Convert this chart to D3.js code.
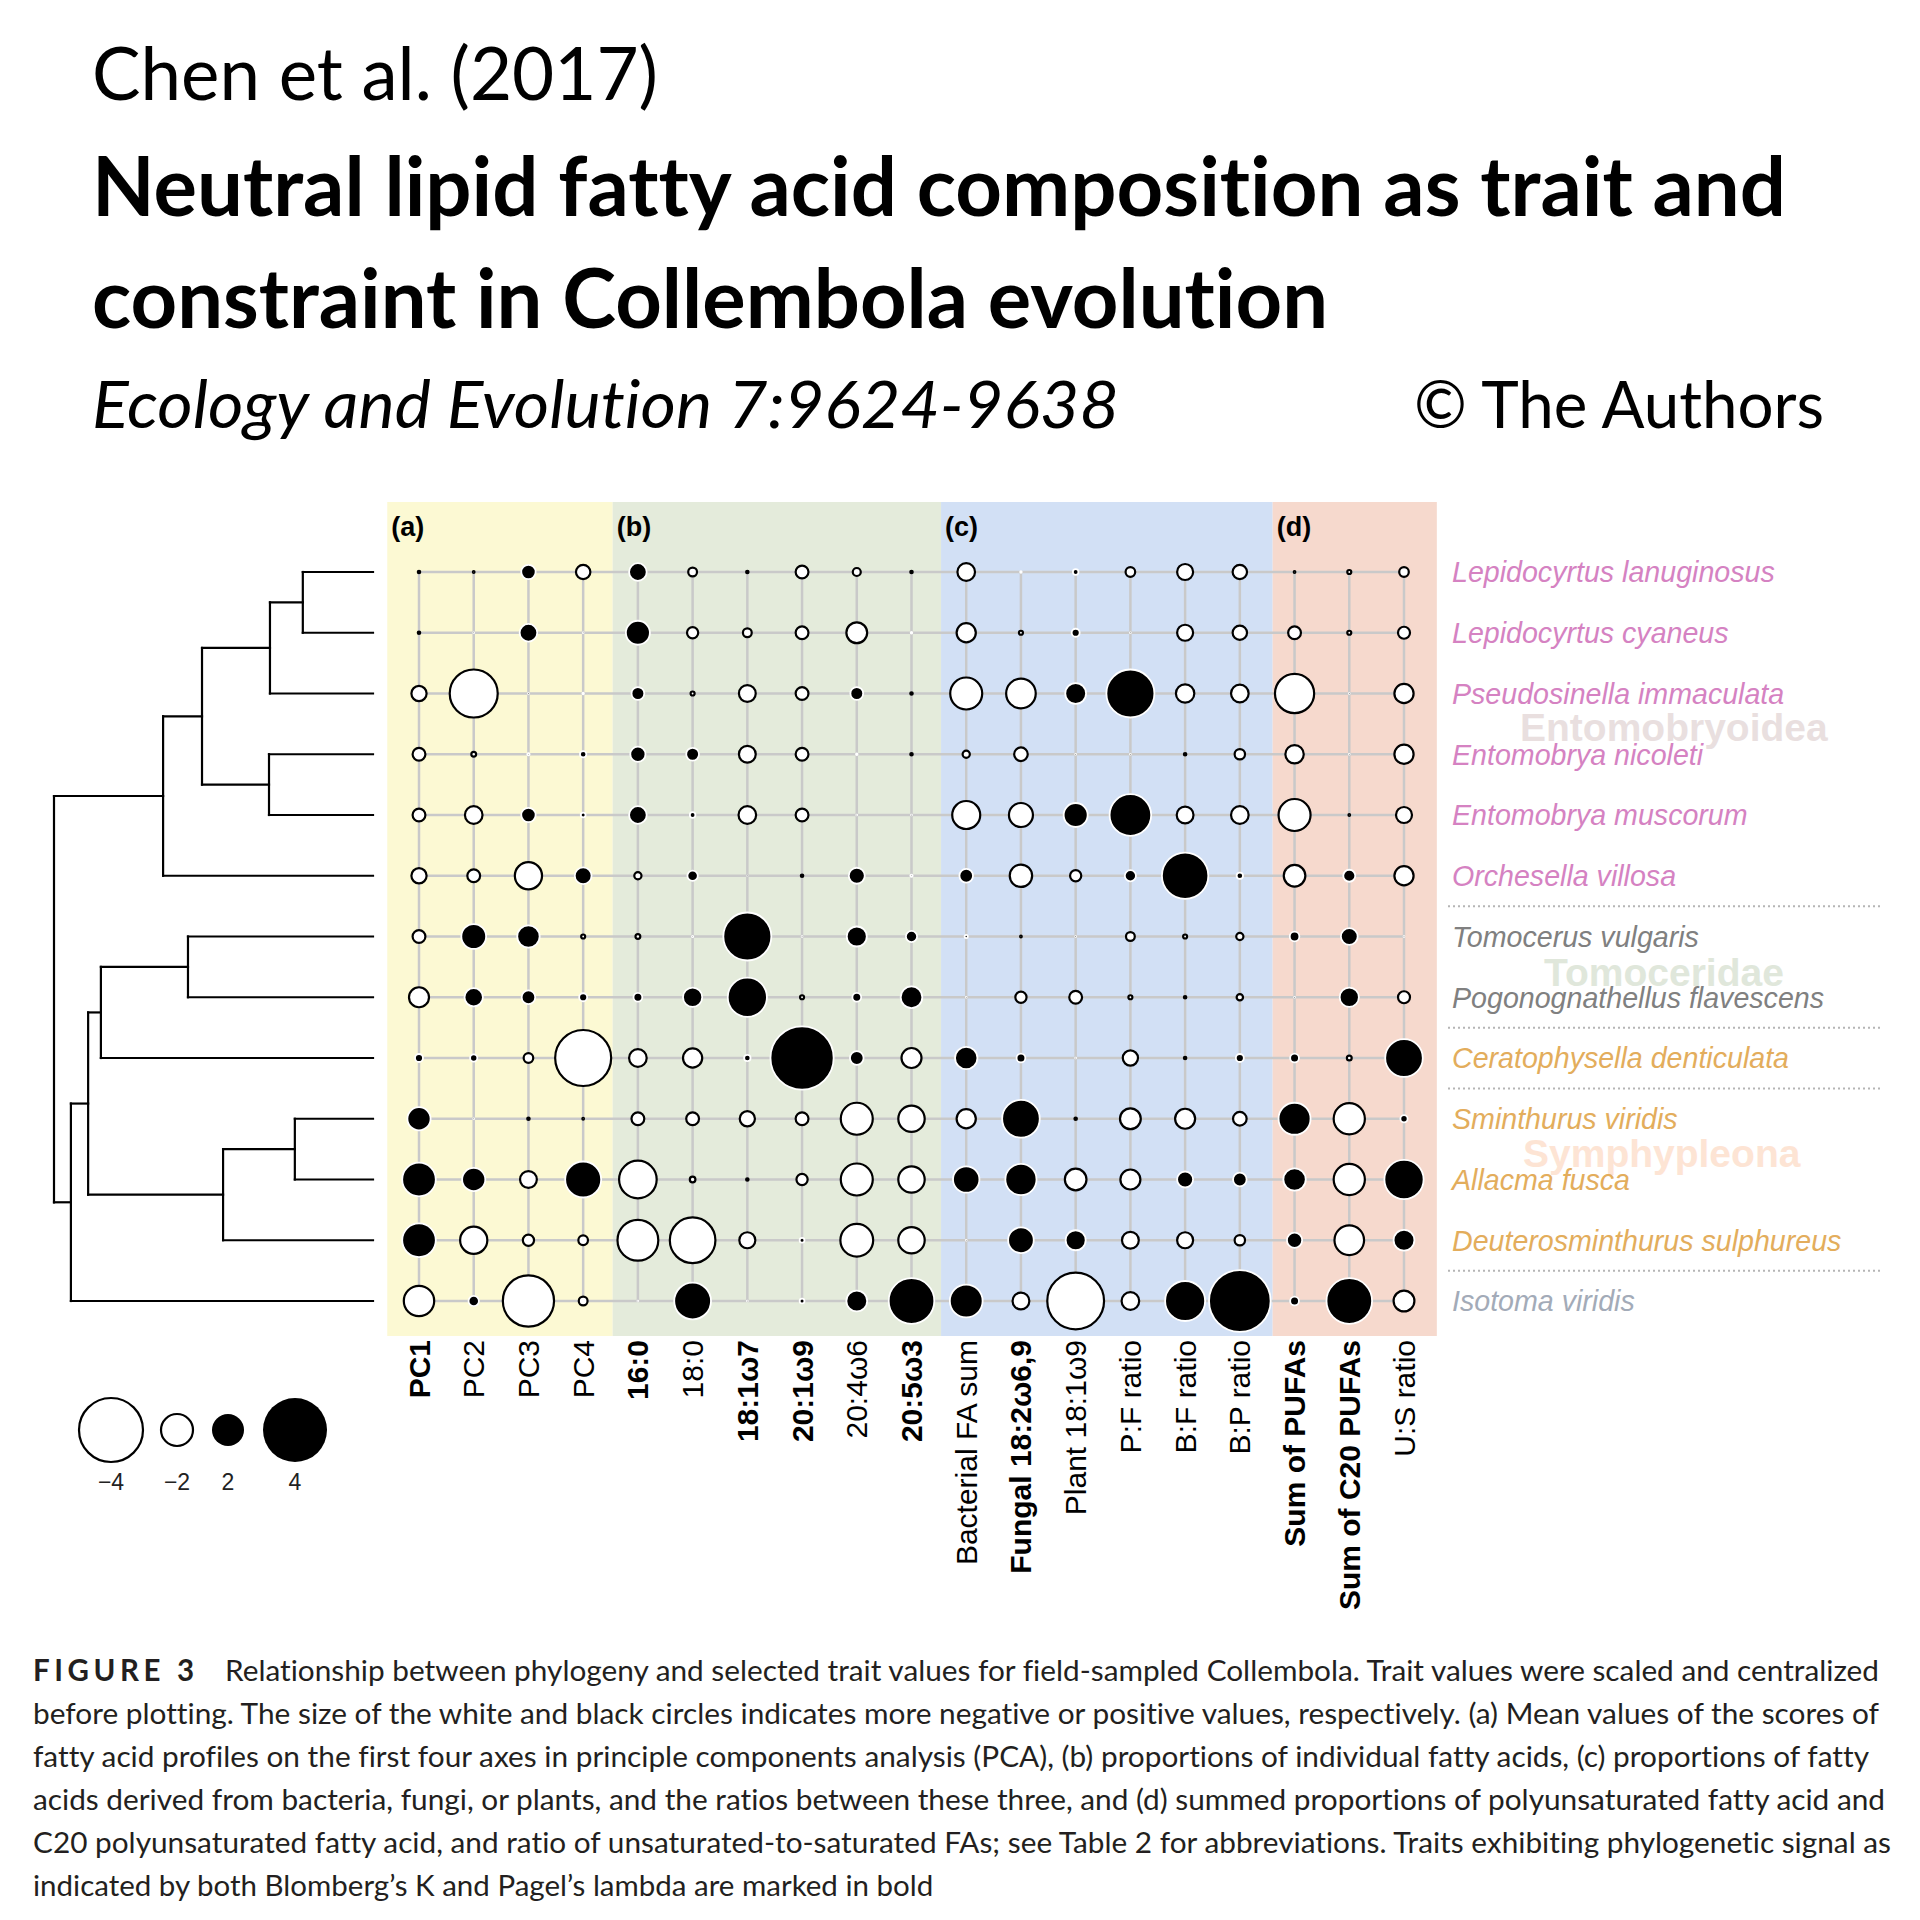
<!DOCTYPE html>
<html><head><meta charset="utf-8">
<script src="https://cdn.jsdelivr.net/npm/d3@7"></script>
<style>body{margin:0;background:#fff} svg{display:block} text{font-variant-ligatures:none}</style>
</head><body>
<svg id="chart" width="1920" height="1920"></svg>
<script>
// ---------------- DATA ----------------
const species = ["Lepidocyrtus lanuginosus","Lepidocyrtus cyaneus","Pseudosinella immaculata","Entomobrya nicoleti","Entomobrya muscorum","Orchesella villosa","Tomocerus vulgaris","Pogonognathellus flavescens","Ceratophysella denticulata","Sminthurus viridis","Allacma fusca","Deuterosminthurus sulphureus","Isotoma viridis"];
const speciesGroup = ["ento","ento","ento","ento","ento","ento","tomo","tomo","symph","symph","symph","symph","iso"];
const cladeNames = ["Entomobryoidea","Tomoceridae","Symphypleona"];
const traitsA = ["PC1","PC2","PC3","PC4"];
const traitsB = ["16:0","18:0","18:1ω7","20:1ω9","20:4ω6","20:5ω3"];
const traitsC = ["Bacterial FA sum","Fungal 18:2ω6,9","Plant 18:1ω9","P:F ratio","B:F ratio","B:P ratio"];
const traitsD = ["Sum of PUFAs","Sum of C20 PUFAs","U:S ratio"];
const boldTraits = ["PC1","16:0","18:1ω7","20:1ω9","20:5ω3","Fungal 18:2ω6,9","Sum of PUFAs","Sum of C20 PUFAs"];
const panelLabels = ["(a)","(b)","(c)","(d)"];
const legendValues = [-4,-2,2,4];
const legendLabels = ["−4","−2","2","4"];

// rows follow species order
const pcScores = [
 [-0.15,-0.1,0.9,-0.9],
 [-0.15,0.05,1.1,0.05],
 [-0.95,-3.0,0.05,0.1],
 [-0.8,-0.3,0.15,0.4],
 [-0.8,-1.1,0.9,0.3],
 [-0.95,-0.8,-1.7,1.05],
 [-0.8,1.55,1.4,-0.25],
 [-1.25,1.15,0.85,0.5],
 [0.5,0.45,-0.6,-3.5],
 [1.45,0.05,-0.15,-0.1],
 [2.1,1.45,-1.05,2.25],
 [2.1,-1.7,-0.7,-0.6],
 [-1.9,0.65,-3.2,-0.55]];
const faProps = [
 [1.1,-0.55,-0.15,-0.8,-0.5,-0.15],
 [1.5,-0.7,-0.55,-0.8,-1.3,0.1],
 [0.8,-0.25,-1.05,-0.8,0.8,-0.15],
 [0.95,0.8,-1.05,-0.8,0.1,-0.15],
 [1.1,0.35,-1.1,-0.8,0.05,0.05],
 [-0.45,0.65,0.02,-0.15,1.0,0.15],
 [-0.3,0.08,3.0,0.05,1.25,0.7],
 [0.55,1.2,2.45,-0.25,0.55,1.35],
 [-1.1,-1.2,0.4,3.95,0.85,-1.25],
 [-0.8,-0.8,-0.95,-0.8,-2.0,-1.65],
 [-2.35,-0.35,-0.15,-0.7,-2.0,-1.65],
 [-2.55,-2.85,-1.0,0.3,-2.05,-1.65],
 [0.05,2.3,0.05,0.3,1.3,2.85]];
const sourceProps = [
 [-1.1,0.1,0.35,-0.6,-1.0,-0.9],
 [-1.2,-0.25,0.5,0.05,-1.0,-0.9],
 [-2.0,-1.85,1.3,3.0,-1.15,-1.1],
 [-0.45,-0.85,0.05,0.05,-0.15,-0.65],
 [-1.75,-1.5,1.5,2.6,-1.05,-1.1],
 [0.85,-1.4,-0.7,0.7,2.9,0.4],
 [0.2,-0.1,0.05,-0.55,-0.25,-0.45],
 [0.05,-0.7,-0.8,-0.25,-0.15,-0.4],
 [1.4,0.55,0.05,-0.95,-0.15,0.5],
 [-1.2,2.35,-0.15,-1.3,-1.25,-0.85],
 [1.65,1.95,-1.35,-1.25,1.0,0.85],
 [0.05,1.6,1.25,-1.05,-1.0,-0.65],
 [2.05,-1.05,-3.55,-1.1,2.5,3.85]];
const sumProps = [
 [-0.1,-0.25,-0.6],
 [-0.8,-0.25,-0.75],
 [-2.45,0.05,-1.2],
 [-1.15,0.05,-1.2],
 [-2.0,-0.1,-1.0],
 [-1.35,0.75,-1.2],
 [0.6,1.05,0.05],
 [0.05,1.2,-0.75],
 [0.55,-0.3,2.35],
 [2.0,-1.95,0.45],
 [1.4,-1.95,2.45],
 [0.95,-1.85,1.3],
 [0.55,2.85,-1.3]];

// phylogeny: h = relative node depth (0 = root, 1 = tips)
const tree = {h:0, children:[
  {h:0.342, children:[
    {h:0.464, children:[
      {h:0.677, children:[
        {h:0.78, children:[{name:species[0]},{name:species[1]}]},
        {name:species[2]}]},
      {h:0.674, children:[{name:species[3]},{name:species[4]}]}]},
    {name:species[5]}]},
  {h:0.053, children:[
    {h:0.107, children:[
      {h:0.147, children:[
        {h:0.42, children:[{name:species[6]},{name:species[7]}]},
        {name:species[8]}]},
      {h:0.53, children:[
        {h:0.755, children:[{name:species[9]},{name:species[10]}]},
        {name:species[11]}]}]},
    {name:species[12]}]}]};

const titleLines = ["Chen et al. (2017)","Neutral lipid fatty acid composition as trait and","constraint in Collembola evolution"];
const citation = "Ecology and Evolution 7:9624-9638";
const copyright = "© The Authors";
const captionHead = "FIGURE 3";
const captionLines = [
 "Relationship between phylogeny and selected trait values for field-sampled Collembola. Trait values were scaled and centralized",
 "before plotting. The size of the white and black circles indicates more negative or positive values, respectively. (a) Mean values of the scores of",
 "fatty acid profiles on the first four axes in principle components analysis (PCA), (b) proportions of individual fatty acids, (c) proportions of fatty",
 "acids derived from bacteria, fungi, or plants, and the ratios between these three, and (d) summed proportions of polyunsaturated fatty acid and",
 "C20 polyunsaturated fatty acid, and ratio of unsaturated-to-saturated FAs; see Table 2 for abbreviations. Traits exhibiting phylogenetic signal as",
 "indicated by both Blomberg’s K and Pagel’s lambda are marked in bold"];

// ---------------- DRAW ----------------
(function(){
const svg = d3.select("#chart");
const SANS = "'Liberation Sans', Arial, Helvetica, sans-serif";

// titles
const T = svg.append("g").attr("font-family","Lato, 'Open Sans', sans-serif").attr("fill","#000");
T.append("text").attr("x",92).attr("y",100).attr("font-size",74).attr("textLength",566).attr("lengthAdjust","spacingAndGlyphs").text(titleLines[0]);
T.append("text").attr("x",92).attr("y",216).attr("font-size",82).attr("font-weight",700).attr("textLength",1694).attr("lengthAdjust","spacingAndGlyphs").text(titleLines[1]);
T.append("text").attr("x",92).attr("y",328).attr("font-size",82).attr("font-weight",700).attr("textLength",1236).attr("lengthAdjust","spacingAndGlyphs").text(titleLines[2]);
T.append("text").attr("x",92).attr("y",428).attr("font-size",66).attr("font-style","italic").attr("textLength",1027).attr("lengthAdjust","spacingAndGlyphs").text(citation);
T.append("text").attr("x",1414).attr("y",428).attr("font-size",66).attr("textLength",410).attr("lengthAdjust","spacingAndGlyphs").text(copyright);

// scales
const allTraits = [...traitsA,...traitsB,...traitsC,...traitsD];
const x = d3.scalePoint().domain(allTraits).range([419,1404]);
const y = d3.scalePoint().domain(species).range([572,1301]);
const r = d3.scaleLinear().domain([0,4]).range([0,32]);
const hx = d3.scaleLinear().domain([0,1]).range([54,373]);
const step = x.step();

const panels = [
  {label:panelLabels[0], traits:traitsA, values:pcScores, fill:"#fcf9d3", pad:0.54},
  {label:panelLabels[1], traits:traitsB, values:faProps, fill:"#e4ebdb", pad:0.54},
  {label:panelLabels[2], traits:traitsC, values:sourceProps, fill:"#d2e0f5", pad:0.54},
  {label:panelLabels[3], traits:traitsD, values:sumProps, fill:"#f6d9cd", pad:0.6}];
const bandTop = 502, bandBottom = 1336;
panels.forEach((p,k)=>{
  p.left = k===0 ? x(p.traits[0]) - 0.58*step : x(panels[k-1].traits[panels[k-1].traits.length-1]) + p.pad*step;
});
panels.forEach((p,k)=>{
  p.right = k===panels.length-1 ? x(p.traits[p.traits.length-1]) + 0.6*step : panels[k+1].left;
});
const bg = svg.append("g");
bg.selectAll("rect").data(panels).join("rect")
  .attr("x",d=>d.left).attr("y",bandTop).attr("width",d=>d.right-d.left).attr("height",bandBottom-bandTop)
  .attr("fill",d=>d.fill);
bg.selectAll("text").data(panels).join("text")
  .attr("x",d=>d.left+4).attr("y",536).attr("font-family",SANS).attr("font-weight",700)
  .attr("font-size",27).attr("fill","#000").text(d=>d.label);

// grid
const grid = svg.append("g").attr("stroke","#c9c9c9").attr("stroke-width",2.5);
grid.selectAll("line.h").data(species).join("line").attr("class","h")
  .attr("x1",x(allTraits[0])).attr("x2",x(allTraits[allTraits.length-1]))
  .attr("y1",d=>y(d)).attr("y2",d=>y(d));
grid.selectAll("line.v").data(allTraits).join("line").attr("class","v")
  .attr("x1",d=>x(d)).attr("x2",d=>x(d))
  .attr("y1",y(species[0])).attr("y2",y(species[species.length-1]));

// dots
const cells = [];
panels.forEach(p=>{
  p.values.forEach((row,i)=>row.forEach((v,j)=>cells.push({sp:species[i], tr:p.traits[j], v})));
});
svg.append("g").selectAll("circle").data(cells).join("circle")
  .attr("cx",d=>x(d.tr)).attr("cy",d=>y(d.sp)).attr("r",d=>r(Math.abs(d.v)))
  .attr("fill",d=>d.v<0?"#fff":"#000")
  .attr("stroke",d=>d.v<0?"#000":"#fff").attr("stroke-width",d=>d.v<0?2.2:1.8);

// column labels
svg.append("g").selectAll("text").data(allTraits).join("text")
  .attr("transform",d=>`translate(${x(d)},1340) rotate(-90)`)
  .attr("text-anchor","end").attr("dominant-baseline","central")
  .attr("font-family",SANS).attr("font-size",30)
  .attr("font-weight",d=>boldTraits.includes(d)?700:400)
  .attr("fill","#000").text(d=>d);

// tree
const root = d3.hierarchy(tree);
root.eachAfter(n=>{
  if(!n.children){ n.px = hx(1); n.py = y(n.data.name); }
  else { n.px = hx(n.data.h); n.py = d3.mean(n.children,c=>c.py); }
});
const tg = svg.append("g").attr("stroke","#000").attr("stroke-width",2.2).attr("fill","none").attr("stroke-linecap","square");
root.descendants().filter(n=>n.children).forEach(n=>{
  const ys = n.children.map(c=>c.py);
  tg.append("line").attr("x1",n.px).attr("x2",n.px).attr("y1",d3.min(ys)).attr("y2",d3.max(ys));
  n.children.forEach(c=>{
    tg.append("line").attr("x1",n.px).attr("x2",c.px).attr("y1",c.py).attr("y2",c.py);
  });
});

// clade watermarks
const cladeStyle = [
  {name:cladeNames[0], x:1520, y:741, fill:"#e9dfdf"},
  {name:cladeNames[1], x:1544, y:986, fill:"#e0e7db"},
  {name:cladeNames[2], x:1523, y:1167, fill:"#fde4d4"}];
svg.append("g").selectAll("text").data(cladeStyle).join("text")
  .attr("x",d=>d.x).attr("y",d=>d.y).attr("font-family",SANS).attr("font-weight",700)
  .attr("font-size",39).attr("fill",d=>d.fill).text(d=>d.name);

// species labels
const groupColor = {ento:"#d582c2", tomo:"#808080", symph:"#e3ad5c", iso:"#a3abb8"};
svg.append("g").selectAll("text").data(species).join("text")
  .attr("x",1452).attr("y",d=>y(d)).attr("dy","0.36em")
  .attr("font-family",SANS).attr("font-style","italic").attr("font-size",28.6)
  .attr("fill",(d,i)=>groupColor[speciesGroup[i]]).text(d=>d);

// dotted separators between groups
const seps = [];
for(let i=1;i<species.length;i++){ if(speciesGroup[i]!==speciesGroup[i-1] || (speciesGroup[i]==="symph" && i===9)) seps.push((y(species[i])+y(species[i-1]))/2); }
svg.append("g").selectAll("line").data(seps).join("line")
  .attr("x1",1448).attr("x2",1882).attr("y1",d=>d).attr("y2",d=>d)
  .attr("stroke","#b5b5b5").attr("stroke-width",2).attr("stroke-dasharray","2,3");

// legend
const lxPos = [111,177,228,295];
const lg = svg.append("g");
lg.selectAll("circle").data(legendValues).join("circle")
  .attr("cx",(d,i)=>lxPos[i]).attr("cy",1430).attr("r",d=>r(Math.abs(d)))
  .attr("fill",d=>d<0?"#fff":"#000").attr("stroke",d=>d<0?"#000":"none").attr("stroke-width",2.2);
lg.selectAll("text").data(legendLabels).join("text")
  .attr("x",(d,i)=>lxPos[i]).attr("y",1490).attr("text-anchor","middle")
  .attr("font-family",SANS).attr("font-size",23).attr("fill","#222").text(d=>d);

// caption
const C = svg.append("g").attr("font-family","Lato, 'Open Sans', sans-serif").attr("font-size",29.5).attr("fill","#231f20");
const capY0 = 1681, capDy = 43;
const capEnds = [1879,1879,1869,1885,1891,null];
C.append("text").attr("x",33).attr("y",capY0).attr("font-weight",700).attr("textLength",161).attr("lengthAdjust","spacing").text(captionHead);
captionLines.forEach((t,i)=>{
  const x0 = i===0 ? 225 : 33;
  const el = C.append("text").attr("x",x0).attr("y",capY0+i*capDy).text(t);
  if(capEnds[i]) el.attr("textLength",capEnds[i]-x0).attr("lengthAdjust","spacingAndGlyphs");
});
})();
</script>
</body></html>
